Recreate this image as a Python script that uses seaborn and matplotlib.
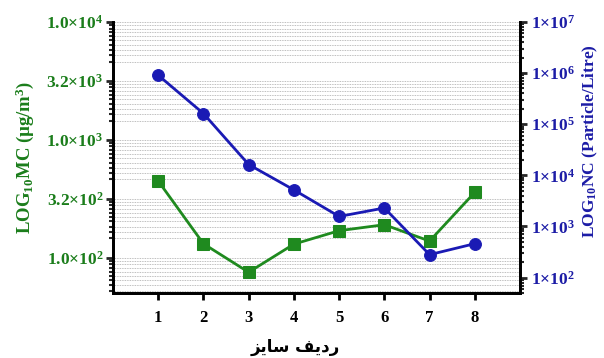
import matplotlib
matplotlib.use("Agg")
import matplotlib.pyplot as plt
import matplotlib.ticker as mticker
import numpy as np
import pandas as pd
import seaborn as sns

# datos
size_rows = [1, 2, 3, 4, 5, 6, 7, 8]
mc_values = [447, 131, 75, 130, 169, 190, 138, 358]          # ug/m3 (eje izquierdo)
nc_values = [9.1e5, 1.62e5, 1.63e4, 5.2e3, 1.57e3, 2.3e3, 281, 461]  # particle/litre (eje derecho)

mc_ticks = [1e2, 10**2.5, 1e3, 10**3.5, 1e4]
nc_ticks = [1e2, 1e3, 1e4, 1e5, 1e6, 1e7]

green = "#1f8a1f"
green_txt = "#1b7d1b"
blue = "#1a1ab4"
blue_txt = "#1c1ca6"

sns.set_style("white")
plt.rcParams["font.family"] = ["Liberation Serif", "DejaVu Sans"]
plt.rcParams["font.weight"] = "bold"
plt.rcParams["mathtext.default"] = "regular"

df = pd.DataFrame({"row": size_rows, "mc": mc_values, "nc": nc_values})

fig = plt.figure(figsize=(6.04, 3.58), dpi=100)
ax = fig.add_axes([0.187, 0.1816, 0.674, 0.757])
ax2 = ax.twinx()

sns.lineplot(data=df, x="row", y="mc", ax=ax, color=green, marker="s",
             markersize=9, markeredgecolor=green, linewidth=2, zorder=3)
sns.lineplot(data=df, x="row", y="nc", ax=ax2, color=blue, marker="o",
             markersize=8.5, markeredgecolor=blue, linewidth=2, zorder=3)

ax.set_yscale("log")
ax2.set_yscale("log")
ax.set_xlim(0, 9)
ax.set_ylim(50, 1e4)
ax2.set_ylim(50, 1e7)

# ejes y ticks
ax.set_xticks(size_rows)
ax.set_xticklabels([str(r) for r in size_rows])

def mc_fmt(v, pos):
    e = int(np.floor(np.log10(v) + 1e-9))
    return "%.1f×10$^{%d}$" % (v / 10**e, e)

ax.yaxis.set_major_locator(mticker.FixedLocator(mc_ticks))
ax.yaxis.set_major_formatter(mticker.FuncFormatter(mc_fmt))
minor = []
for m in [10**1.5] + mc_ticks:
    for k in range(1, 10):
        v = m * (1 - 0.06 * k)
        if v > 50:
            minor.append(v)
ax.yaxis.set_minor_locator(mticker.FixedLocator(minor))
ax.yaxis.set_minor_formatter(mticker.NullFormatter())

ax2.yaxis.set_major_locator(mticker.FixedLocator(nc_ticks))
ax2.yaxis.set_major_formatter(mticker.FuncFormatter(lambda v, p: "1×10$^{%d}$" % round(np.log10(v))))
ax2.yaxis.set_minor_locator(mticker.LogLocator(base=10, subs=np.arange(2, 10)))
ax2.yaxis.set_minor_formatter(mticker.NullFormatter())

ax.grid(which="both", axis="y", color="#a8a8a8", linestyle=(0, (1, 1)), linewidth=0.6)
ax.grid(False, axis="x")
ax.set_axisbelow(True)

for a in (ax, ax2):
    a.spines["top"].set_visible(False)
    for s in ("left", "right", "bottom"):
        a.spines[s].set_linewidth(2)
        a.spines[s].set_color("black")

ax.tick_params(axis="x", which="major", direction="out", length=5, width=2,
               labelsize=12, pad=7, colors="black", bottom=True)
ax.tick_params(axis="y", which="major", direction="out", length=5, width=2,
               labelsize=12.5, labelcolor=green_txt, left=True, pad=2)
ax.tick_params(axis="y", which="minor", direction="out", length=3, width=1.5, left=True)
ax2.tick_params(axis="y", which="major", direction="out", length=5, width=2,
                labelsize=12.5, labelcolor=blue_txt, right=True, pad=3)
ax2.tick_params(axis="y", which="minor", direction="out", length=3, width=1.5, right=True)
for lab in ax.get_xticklabels() + ax.get_yticklabels() + ax2.get_yticklabels():
    lab.set_fontweight("bold")

ax.set_ylabel("LOG$_{10}$MC (µg/m$^{3}$)", color=green_txt, fontsize=13.5, fontweight="bold")
ax.yaxis.set_label_coords(-0.19, 0.5)
ax2.set_ylabel("LOG$_{10}$NC (Particle/Litre)", color=blue_txt, fontsize=12.5,
               fontweight="bold", rotation=90)
ax2.yaxis.set_label_coords(1.15, 0.56)

# متن فارسی: "ردیف سایز" به صورت شکل‌های نمایشی و ترتیب دیداری
xlab = "\uFEB0\uFEF3\uFE8E\uFEB3 \uFED2\uFEF3\uFEA9\uFEAD"
ax.set_xlabel(xlab, family=["DejaVu Sans"], fontsize=12, fontweight="bold", color="black")
ax.xaxis.set_label_coords(0.447, -0.165)

fig.savefig("out.png", dpi=100)
